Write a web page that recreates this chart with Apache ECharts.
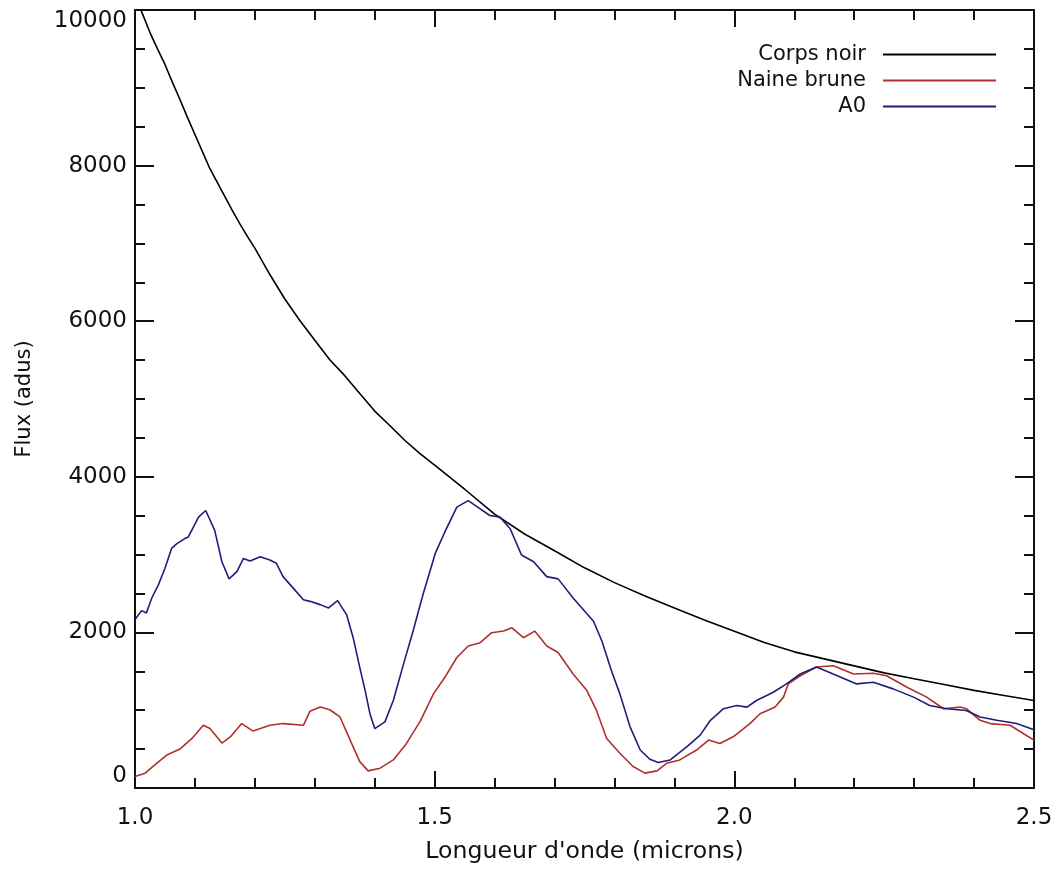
<!DOCTYPE html>
<html>
<head>
<meta charset="utf-8">
<title>Flux</title>
<script src="https://cdn.jsdelivr.net/npm/echarts@6/dist/echarts.min.js"></script>
<style>
  html, body { margin: 0; padding: 0; background: #ffffff; }
  #chart { width: 1058px; height: 869px; }
</style>
</head>
<body>
<div id="chart"></div>
<script>
// Black body reference curve
const bbWave = [1.00, 1.0125, 1.025, 1.0375, 1.05, 1.0625, 1.075, 1.0875, 1.10, 1.1125, 1.125, 1.1375,
  1.15, 1.1625, 1.175, 1.1875, 1.20, 1.225, 1.25, 1.275, 1.30, 1.325, 1.35, 1.375, 1.40, 1.425, 1.45,
  1.475, 1.50, 1.55, 1.60, 1.65, 1.70, 1.75, 1.80, 1.85, 1.90, 1.95, 2.00, 2.05, 2.10, 2.15, 2.20,
  2.25, 2.30, 2.35, 2.40, 2.45, 2.50];
const bbFlux = [10200, 9950, 9710, 9500, 9300, 9070, 8850, 8620, 8400, 8180, 7960, 7780,
  7600, 7420, 7250, 7090, 6940, 6600, 6285, 6010, 5755, 5505, 5300, 5070, 4845, 4660, 4470,
  4300, 4150, 3840, 3520, 3265, 3050, 2830, 2640, 2470, 2315, 2160, 2015, 1870, 1750, 1660, 1570,
  1480, 1405, 1330, 1255, 1190, 1125];

// Brown dwarf spectrum
const dwarfWave = [1.000, 1.017, 1.033, 1.053, 1.075, 1.095, 1.114, 1.125, 1.145, 1.159, 1.178, 1.197,
  1.225, 1.247, 1.281, 1.292, 1.309, 1.325, 1.342, 1.359, 1.375, 1.389, 1.409, 1.431, 1.453, 1.476,
  1.498, 1.517, 1.537, 1.556, 1.576, 1.595, 1.615, 1.629, 1.648, 1.667, 1.687, 1.706, 1.731, 1.754,
  1.770, 1.787, 1.809, 1.831, 1.851, 1.871, 1.887, 1.909, 1.937, 1.957, 1.976, 1.998, 2.026, 2.043,
  2.068, 2.082, 2.090, 2.110, 2.137, 2.165, 2.199, 2.232, 2.254, 2.288, 2.321, 2.349, 2.377, 2.387,
  2.410, 2.427, 2.460, 2.482, 2.500];
const dwarfFlux = [149, 191, 297, 424, 500, 637, 806, 764, 577, 656, 828, 732,
  806, 828, 806, 987, 1040, 1006, 913, 616, 339, 220, 255, 361, 573, 860,
  1210, 1423, 1677, 1826, 1868, 1996, 2017, 2059, 1932, 2017, 1826, 1741, 1465, 1252,
  997, 637, 446, 276, 191, 220, 318, 361, 488, 616, 573, 658, 828, 955,
  1040, 1168, 1338, 1443, 1556, 1571, 1465, 1474, 1443, 1295, 1168, 1019, 1040, 1019,
  870, 828, 806, 701, 616];

// A0 star spectrum
const a0Wave = [1.000, 1.011, 1.019, 1.028, 1.039, 1.050, 1.061, 1.070, 1.083, 1.089, 1.106, 1.118,
  1.133, 1.145, 1.157, 1.170, 1.181, 1.192, 1.209, 1.225, 1.236, 1.247, 1.264, 1.281, 1.292, 1.309,
  1.323, 1.338, 1.353, 1.364, 1.375, 1.384, 1.392, 1.400, 1.417, 1.431, 1.448, 1.464, 1.481, 1.501,
  1.517, 1.537, 1.556, 1.576, 1.592, 1.609, 1.626, 1.645, 1.665, 1.687, 1.706, 1.731, 1.765, 1.779,
  1.795, 1.809, 1.826, 1.843, 1.859, 1.873, 1.893, 1.921, 1.943, 1.960, 1.982, 2.004, 2.021, 2.037,
  2.065, 2.087, 2.110, 2.137, 2.165, 2.204, 2.232, 2.265, 2.299, 2.326, 2.354, 2.387, 2.410, 2.438,
  2.471, 2.500];
const a0Flux = [2166, 2280, 2250, 2442, 2611, 2824, 3079, 3142, 3206, 3227, 3482, 3567,
  3312, 2908, 2688, 2781, 2951, 2917, 2972, 2930, 2888, 2717, 2569, 2420, 2399, 2357,
  2314, 2408, 2229, 1932, 1550, 1252, 955, 764, 850, 1125, 1592, 2017, 2500, 3015,
  3291, 3610, 3694, 3588, 3503, 3482, 3333, 2994, 2908, 2717, 2688, 2442, 2144, 1889,
  1507, 1210, 786, 488, 369, 327, 361, 531, 680, 870, 1019, 1061, 1040, 1125,
  1231, 1338, 1465, 1556, 1465, 1338, 1359, 1274, 1168, 1061, 1019, 997, 913, 870,
  828, 750];

const xTicks = { min: 1.0, max: 2.5, step: 0.5 };
const yTicks = { min: 0, max: 10000, step: 2000 };

const pairs = (xs, ys) => xs.map((x, i) => [x, ys[i]]);

const FONT = 'DejaVu Sans';
const INK = '#111111';

const frameLine = { show: true, onZero: false, lineStyle: { color: INK, width: 2 } };

function xAxisDef(position, showLabels) {
  return {
    type: 'value',
    position: position,
    min: xTicks.min, max: xTicks.max, interval: xTicks.step,
    axisLine: frameLine,
    axisTick: { show: true, inside: true, length: 17, lineStyle: { color: INK, width: 2 } },
    minorTick: { show: true, splitNumber: 5, length: 10, lineStyle: { color: INK, width: 2 } },
    splitLine: { show: false },
    minorSplitLine: { show: false },
    axisLabel: {
      show: showLabels, margin: 19, color: INK, fontFamily: FONT, fontSize: 23,
      formatter: v => v.toFixed(1)
    },
    name: showLabels ? "Longueur d'onde (microns)" : '',
    nameLocation: 'middle', nameGap: 52,
    nameTextStyle: { color: INK, fontFamily: FONT, fontSize: 23.6 }
  };
}

function yAxisDef(position, showLabels) {
  return {
    type: 'value',
    position: position,
    min: yTicks.min, max: yTicks.max, interval: yTicks.step,
    axisLine: frameLine,
    axisTick: { show: true, inside: true, length: 19, lineStyle: { color: INK, width: 2 } },
    minorTick: { show: true, splitNumber: 4, length: 10, lineStyle: { color: INK, width: 2 } },
    splitLine: { show: false },
    minorSplitLine: { show: false },
    axisLabel: {
      show: showLabels, margin: 8, color: INK, fontFamily: FONT, fontSize: 23,
      formatter: v => String(v),
      verticalAlignMinLabel: 'bottom',
      verticalAlignMaxLabel: 'top'
    },
    name: showLabels ? 'Flux (adus)' : '',
    nameLocation: 'middle', nameGap: 100, nameRotate: 90,
    nameTextStyle: { color: INK, fontFamily: FONT, fontSize: 21 }
  };
}

const chart = echarts.init(document.getElementById('chart'), null, { renderer: 'canvas' });

chart.setOption({
  backgroundColor: '#ffffff',
  animation: false,
  grid: { left: 135, right: 24, top: 10, bottom: 74, containLabel: false },
  legend: {
    orient: 'vertical',
    right: 62,
    top: 44,
    padding: 0,
    align: 'right',
    icon: 'rect',
    itemWidth: 113,
    itemHeight: 2,
    itemGap: 5,
    selectedMode: false,
    textStyle: { color: INK, fontFamily: FONT, fontSize: 21, padding: [0, 12, 0, 0] },
    data: ['Corps noir', 'Naine brune', 'A0']
  },
  xAxis: [xAxisDef('bottom', true), xAxisDef('top', false)],
  yAxis: [yAxisDef('left', true), yAxisDef('right', false)],
  series: [
    {
      name: 'Corps noir', type: 'line', xAxisIndex: 0, yAxisIndex: 0,
      data: pairs(bbWave, bbFlux), symbol: 'none', clip: true,
      lineStyle: { color: '#000000', width: 1.6 }, itemStyle: { color: '#000000' }
    },
    {
      name: 'Naine brune', type: 'line', xAxisIndex: 0, yAxisIndex: 0,
      data: pairs(dwarfWave, dwarfFlux), symbol: 'none', clip: true,
      lineStyle: { color: '#b0302c', width: 1.6 }, itemStyle: { color: '#b0302c' }
    },
    {
      name: 'A0', type: 'line', xAxisIndex: 0, yAxisIndex: 0,
      data: pairs(a0Wave, a0Flux), symbol: 'none', clip: true,
      lineStyle: { color: '#1e1e7a', width: 1.6 }, itemStyle: { color: '#1e1e7a' }
    }
  ]
});
</script>
</body>
</html>
